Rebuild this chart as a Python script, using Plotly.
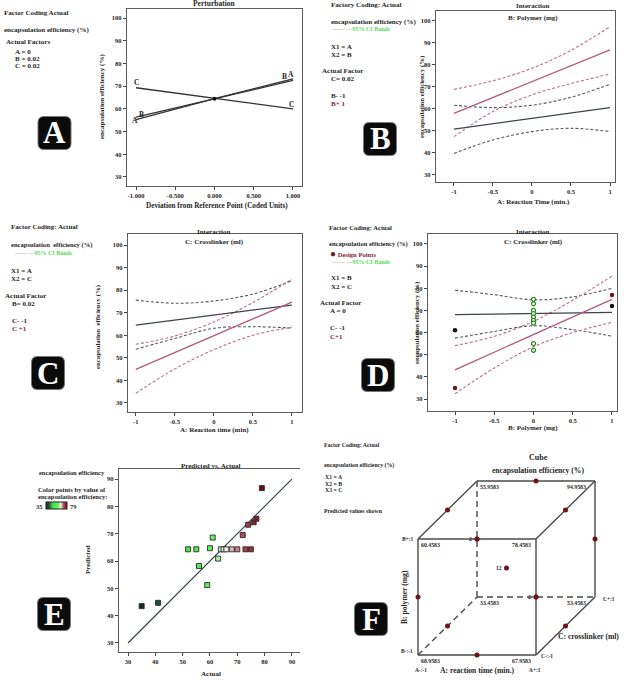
import plotly.graph_objects as go

# ---------------- data ----------------
# Panel A: perturbation
pert_x = [-1.0, 0.0, 1.0]
pert_A = [55.2, 64.5, 73.2]
pert_B = [56.3, 64.5, 72.5]
pert_C = [69.3, 64.5, 60.0]
pert_ticks = [-1.0, -0.5, 0.0, 0.5, 1.0]
pert_ticktext = ["-1.000", "-0.500", "0.000", "0.500", "1.000"]

# Interaction panels share coded x positions
int_x = [-1.0, -0.5, 0.0, 0.5, 1.0]
int_ticktext = ["-1", "-0.5", "0", "0.5", "1"]
eff_ticks = [30, 40, 50, 60, 70, 80, 90, 100]

# Panel B: A x B  (B- black, B+ pink)
b_low_fit = [50.8, 53.2, 55.7, 58.1, 60.6]
b_low_up = [61.7, 60.6, 61.7, 65.3, 71.2]
b_low_dn = [39.8, 45.9, 49.7, 51.2, 49.7]
b_high_fit = [58.0, 65.2, 72.4, 79.6, 86.8]
b_high_up = [68.9, 72.8, 78.5, 86.6, 97.4]
b_high_dn = [47.4, 58.8, 66.4, 71.5, 75.9]

# Panel C: A x C
c_low_fit = [64.5, 66.7, 69.0, 71.2, 73.4]
c_low_up = [75.6, 74.2, 75.2, 78.3, 84.2]
c_low_dn = [53.8, 58.6, 63.1, 63.8, 63.2]
c_high_fit = [44.9, 52.4, 59.8, 67.3, 74.7]
c_high_up = [56.0, 59.7, 65.9, 74.5, 84.9]
c_high_dn = [34.3, 45.1, 53.6, 60.0, 63.6]

# Panel D: B x C
d_low_fit = [68.1, 68.4, 68.6, 68.9, 69.1]
d_low_up = [79.1, 77.1, 74.8, 76.1, 80.0]
d_low_dn = [57.5, 60.5, 63.1, 61.3, 58.4]
d_high_fit = [43.2, 51.2, 59.2, 67.1, 75.0]
d_high_up = [54.1, 58.3, 65.1, 74.6, 85.5]
d_high_dn = [32.4, 44.0, 53.6, 60.0, 64.6]
d_pts_low_x = [-1, 1]
d_pts_low_y = [61, 72]
d_pts_high_x = [-1, 1]
d_pts_high_y = [35, 77]
d_center_y = [75, 73, 70, 68.5, 67, 65.5, 64.3, 55, 52]

# Panel E: predicted vs actual
e_actual = [35, 41, 52, 55, 56, 59, 60, 61, 63, 64, 65, 66, 68, 70, 72, 73, 74, 75, 76, 77, 79]
e_pred = [43.5, 44.7, 64.3, 64.3, 58.2, 51.2, 64.7, 68.6, 60.9, 64.3, 64.3, 64.3, 64.3, 64.3,
          69.5, 64.3, 73.3, 64.3, 74.2, 75.5, 86.7]
e_line = [30, 90]
e_ticks = [30, 40, 50, 60, 70, 80, 90]

# Panel F: cube (coded levels)
cube_A = [-1, 1, -1, 1, -1, 1, -1, 1]
cube_B = [-1, -1, 1, 1, -1, -1, 1, 1]
cube_C = [-1, -1, -1, -1, 1, 1, 1, 1]
cube_val = [68.9583, 67.9583, 60.4583, 78.4583, 33.4583, 53.4583, 55.9583, 94.9583]
design_A = [0, 0, -1, 1, 0, 0, -1, 1, -1, 1, -1, 1, 0]
design_B = [-1, 1, 0, 0, -1, 1, 0, 0, -1, -1, 1, 1, 0]
design_C = [-1, -1, -1, -1, 1, 1, 1, 1, 0, 0, 0, 0, 0]
center_runs = 12

# ---------------- helpers ----------------
W, H = 626, 680
FONT = "Liberation Serif"
DARK = "#262626"
BLK = "#3c4549"
BLKD = "#4f5b5f"
PINK = "#b5587d"
PINKD = "#c06c90"
MAROON = "#8a2338"
GREEN_T = "#55dd55"
BOX = "#5c5c5c"


def dom_x(a, b):
    return [a / W, b / W]


def dom_y(top, bottom):
    return [1 - bottom / H, 1 - top / H]


fig = go.Figure()


def line(x, y, ax, color, dash=None, width=1.2, shape="linear"):
    fig.add_trace(go.Scatter(x=x, y=y, mode="lines", xaxis="x" + ax, yaxis="y" + ax,
                             line=dict(color=color, width=width, dash=dash, shape=shape),
                             showlegend=False, hoverinfo="skip"))


DASH = "3px,2px"

# Panel A
for ys in (pert_A, pert_B, pert_C):
    line(pert_x, ys, "", "#333333", width=1.3)
fig.add_trace(go.Scatter(x=[pert_x[1]], y=[pert_A[1]], mode="markers", marker=dict(color="#111", size=4),
                         showlegend=False))

# Panels B, C, D
for ax, sets in (("2", (b_low_fit, b_low_up, b_low_dn, b_high_fit, b_high_up, b_high_dn)),
                 ("3", (c_low_fit, c_low_up, c_low_dn, c_high_fit, c_high_up, c_high_dn)),
                 ("4", (d_low_fit, d_low_up, d_low_dn, d_high_fit, d_high_up, d_high_dn))):
    lf, lu, ld, hf, hu, hd = sets
    line(int_x, lu, ax, BLKD, DASH, 1.1, "spline")
    line(int_x, ld, ax, BLKD, DASH, 1.1, "spline")
    line(int_x, hu, ax, PINKD, DASH, 1.1, "spline")
    line(int_x, hd, ax, PINKD, DASH, 1.1, "spline")
    line(int_x, lf, ax, BLK, None, 1.3)
    line(int_x, hf, ax, PINK, None, 1.3)

fig.add_trace(go.Scatter(x=d_pts_low_x, y=d_pts_low_y, mode="markers", xaxis="x4", yaxis="y4",
                         marker=dict(color="#111", size=4.5), showlegend=False))
fig.add_trace(go.Scatter(x=d_pts_high_x, y=d_pts_high_y, mode="markers", xaxis="x4", yaxis="y4",
                         marker=dict(color="#6e1522", size=4.5), showlegend=False))
fig.add_trace(go.Scatter(x=[0] * len(d_center_y), y=d_center_y, mode="markers", xaxis="x4", yaxis="y4",
                         marker=dict(color="white", size=4, line=dict(color="#1f8a1f", width=1.2)),
                         showlegend=False))

# Panel E
line(e_line, e_line, "5", "#2e3a44", None, 1.1)
escale = [[0.0, "#1c2628"], [0.15, "#24503a"], [0.33, "#3ee83e"], [0.58, "#62f062"],
          [0.7, "#f2f2f2"], [0.84, "#b24a5a"], [1.0, "#6a0c12"]]
fig.add_trace(go.Scatter(
    x=e_actual, y=e_pred, mode="markers", xaxis="x5", yaxis="y5", showlegend=False,
    marker=dict(symbol="square", size=5, color=e_actual, colorscale=escale, cmin=35, cmax=79,
                line=dict(color="#2a2a2a", width=0.9), showscale=True,
                colorbar=dict(orientation="h", x=56.5 / W, y=1 - 506 / H, xanchor="center", yanchor="middle",
                              len=21, lenmode="pixels", thickness=7, thicknessmode="pixels",
                              showticklabels=False, ticks="", outlinewidth=1, outlinecolor="#222",
                              xpad=0, ypad=0))))

# Panel F cube (oblique projection)
KX, KY = 0.5, 0.5


def proj(a, b, c):
    return a + KX * c, b + KY * c


hidden = (-1, -1, 1)
for i in range(8):
    for j in range(i + 1, 8):
        pi = (cube_A[i], cube_B[i], cube_C[i])
        pj = (cube_A[j], cube_B[j], cube_C[j])
        if sum(1 for u, v in zip(pi, pj) if u != v) != 1:
            continue
        xi, yi = proj(*pi)
        xj, yj = proj(*pj)
        dash = "6px,4px" if (pi == hidden or pj == hidden) else None
        line([xi, xj], [yi, yj], "6", "#4a4a4a", dash, 1.4)

dx, dy = [], []
for a, b, c in zip(design_A, design_B, design_C):
    x, y = proj(a, b, c)
    dx.append(x)
    dy.append(y)
fig.add_trace(go.Scatter(x=dx, y=dy, mode="markers", xaxis="x6", yaxis="y6",
                         marker=dict(color="#6e1418", size=5), showlegend=False))

# ---------------- axes ----------------
tickfont = dict(family=FONT, size=6.5, color=DARK, weight="bold")


def box_axis(domain, rng, tickvals, anchor, ticktext=None):
    d = dict(domain=domain, range=rng, anchor=anchor, showline=True, mirror=True, linecolor=BOX,
             linewidth=1.3, ticks="outside", ticklen=3, tickwidth=1, tickcolor="#444", showgrid=False,
             zeroline=False, tickvals=tickvals, tickfont=tickfont)
    if ticktext is not None:
        d["ticktext"] = ticktext
    return d


# F ranges from pixel geometry
ux, uy = 59.0, 58.0
f_xr = [(300 - 418) / ux - 1.5, (626 - 418) / ux - 1.5]
f_yr = [(655 - 680) / uy - 1.5, (655 - 440) / uy - 1.5]

fig.update_layout(
    width=W, height=H, margin=dict(l=0, r=0, t=0, b=0),
    paper_bgcolor="white", plot_bgcolor="white", showlegend=False,
    font=dict(family=FONT, color=DARK, size=7, weight="bold"),
    xaxis=box_axis(dom_x(127, 302), [-1.115, 1.115], pert_ticks, "y", pert_ticktext),
    yaxis=box_axis(dom_y(9, 186), [26, 104], eff_ticks, "x"),
    xaxis2=box_axis(dom_x(436, 615), [-1.23, 1.064], int_x, "y2", int_ticktext),
    yaxis2=box_axis(dom_y(11, 182), [26.8, 104.5], eff_ticks, "x2"),
    xaxis3=box_axis(dom_x(128, 302), [-1.10, 1.13], int_x, "y3", int_ticktext),
    yaxis3=box_axis(dom_y(234, 412), [26, 104.9], eff_ticks, "x3"),
    xaxis4=box_axis(dom_x(428, 617), [-1.344, 1.064], int_x, "y4", int_ticktext),
    yaxis4=box_axis(dom_y(234, 411), [24.6, 104.5], eff_ticks, "x4"),
    xaxis5=box_axis(dom_x(119, 302), [26.7, 93.7], e_ticks, "y5"),
    yaxis5=box_axis(dom_y(469, 652), [26.7, 93.7], e_ticks, "x5"),
    xaxis6=dict(domain=dom_x(300, 626), range=f_xr, visible=False, anchor="y6"),
    yaxis6=dict(domain=dom_y(440, 680), range=f_yr, visible=False, anchor="x6"),
)

# ---------------- annotations ----------------
ann = []


def T(xp, yp, s, size=7, color=DARK, xanchor="left", angle=0):
    ann.append(dict(x=xp / W, y=1 - yp / H, xref="paper", yref="paper", text=s, showarrow=False,
                    xanchor=xanchor, yanchor="middle", textangle=angle,
                    font=dict(family=FONT, size=size, color=color, weight="bold")))


def D(x, y, s, ax="", size=7, color=DARK, xanchor="center", xshift=0, yshift=0):
    ann.append(dict(x=x, y=y, xref="x" + ax, yref="y" + ax, text=s, showarrow=False, xanchor=xanchor,
                    yanchor="middle", xshift=xshift, yshift=yshift,
                    font=dict(family=FONT, size=size, color=color, weight="bold")))


CI = "<span style='color:#a9b8a9'>—— —</span>95% CI Bands"

# Panel A
T(2, 13, "Factor Coding Actual")
T(2, 30, "encapsulation efficiency (%)")
T(4, 42, "Actual Factors")
T(13, 52, "A = 0")
T(13, 59, "B = 0.02")
T(13, 66, "C = 0.02")
T(214, 4, "Perturbation", 7.5, xanchor="center")
T(102, 97, "encapsulation efficiency (%)", 7, angle=-90, xanchor="center")
T(217, 206, "Deviation from Reference Point (Coded Units)", 7.2, xanchor="center")
D(-1.0, 71.4, "C", size=7.5)
D(-1.0, 55.0, "A", size=7.5, xshift=-1)
D(-0.93, 57.6, "B", size=7.5)
D(0.89, 74.2, "B", size=7.5)
D(0.98, 75.0, "A", size=7.5)
D(0.98, 62.0, "C", size=7.5)

# Panel B
T(329, 5, "Factory Coding: Actual")
T(329, 22, "encapsulation efficiency (%)")
T(330, 29, CI, 6, GREEN_T)
T(329, 47, "X1 = A")
T(329, 55, "X2 = B")
T(320, 71, "Actual Factor")
T(329, 79, "C= 0.02")
T(329, 96, "B- -1")
T(329, 104, "B+ 1", color=MAROON)
T(533, 6, "Interaction", 7, xanchor="center")
T(533, 18, "B: Polymer (mg)", 7, xanchor="center")
T(422, 97, "encapsulation efficiency (%)", 6.8, angle=-90, xanchor="center")
T(533, 202, "A: Reaction Time (min.)", 7, xanchor="center")

# Panel C
T(9, 227, "Factor Coding: Actual")
T(9, 245, "encapsulation  efficiency (%)", 6.6)
T(12, 253, CI, 6, GREEN_T)
T(9, 271, "X1 = A")
T(9, 279, "X2 = C")
T(3, 296, "Actual Factor")
T(10, 304, "B= 0.02")
T(10, 321, "C- -1")
T(10, 329, "C +1", color=MAROON)
T(214, 232, "Interaction", 7, xanchor="center")
T(214, 242, "C: Crosslinker (ml)", 7, xanchor="center")
T(98, 327, "encapsulation  efficiency (%)", 6.8, angle=-90, xanchor="center")
T(214, 430, "A: Reaction time (min)", 7, xanchor="center")

# Panel D
T(327, 228, "Factor Coding: Actual", 6.6)
T(327, 244, "encapsulation efficiency (%)", 6.5)
T(328, 253, "<span style='color:#6e1522;font-size:10px'>●</span> Design Points", 6.6, MAROON)
T(330, 262, CI, 6, GREEN_T)
T(329, 278, "X1 = B")
T(329, 287, "X2 = C")
T(318, 303, "Actual Factor")
T(328, 311, "A = 0")
T(328, 328, "C- -1")
T(328, 337, "C+1", color=MAROON)
T(533, 232, "Interaction", 7, xanchor="center")
T(533, 242, "C: Crosslinker (ml)", 7, xanchor="center")
T(417, 323, "encapsulation efficiency (%)", 6.8, angle=-90, xanchor="center")
T(533, 428, "B: Polymer (mg)", 7, xanchor="center")

# Panel E
T(37, 472, "encapsulation efficiency", 6.4)
T(36, 489, "Color points by value of", 6.6)
T(36, 497, "encapsulation efficiency:", 6.6)
T(44, 506, "35", 6.3, xanchor="right")
T(68, 506, "79", 6.3)
T(211, 466, "Predicted vs. Actual", 7, xanchor="center")
T(88, 560, "Predicted", 7, angle=-90, xanchor="center")
T(211, 674, "Actual", 7, xanchor="center")

# Panel F left text
T(322, 445, "Factor Coding: Actual", 5.8)
T(322, 465, "encapsulation efficiency (%)", 5.8)
T(323, 477, "X1 = A", 5.8)
T(323, 483.5, "X2 = B", 5.8)
T(323, 490, "X3 = C", 5.8)
T(322, 511, "Predicted values shown", 5.8)
T(538, 457, "Cube", 8, xanchor="center")
T(538, 470, "encapsulation efficiency (%)", 7.6, xanchor="center")
T(477, 670, "A: reaction time (min.)", 7.6, xanchor="center")
T(404, 597, "B: polymer (mg)", 7.6, angle=-90, xanchor="center")
T(588, 636, "C: crosslinker (ml)", 7.6, xanchor="center")

# cube corner values
for a, b, c, v in zip(cube_A, cube_B, cube_C, cube_val):
    x, y = proj(a, b, c)
    if a < 0:
        D(x, y, f"{v:.4f}", "6", 5.8, xanchor="left", xshift=1, yshift=-6)
    else:
        D(x, y, f"{v:.4f}", "6", 5.8, xanchor="right", xshift=-3 if c < 0 else -7, yshift=-6)

# level labels
x, y = proj(-1, 1, -1)
D(x, y, "B+:1", "6", 5.4, xanchor="right", xshift=-3)
x, y = proj(-1, -1, -1)
D(x, y, "B-:-1", "6", 5.4, xanchor="right", xshift=-3, yshift=4)
D(x, y, "A-:-1", "6", 5.4, xshift=3, yshift=-15)
x, y = proj(1, -1, -1)
D(x, y, "A+:1", "6", 5.4, xshift=-1, yshift=-15)
D(x, y, "C-:-1", "6", 5.4, xanchor="left", xshift=3, yshift=-1)
x, y = proj(1, -1, 1)
D(x, y, "C+:1", "6", 5.4, xanchor="left", xshift=6, yshift=-2)

# replicate counts at projected design points
seen = {}
for x, y in zip(dx, dy):
    seen[(x, y)] = seen.get((x, y), 0) + 1
for (x, y), n in seen.items():
    if x == 0 and y == 0:
        n = center_runs
    if n > 1:
        D(x, y, str(n), "6", 5.6, xanchor="right", xshift=-3)

fig.update_layout(annotations=ann)

# ---------------- panel badges ----------------
shapes = []


def badge(cx, cy, letter, s=33, r=6):
    x0, x1, y0, y1 = cx - s / 2, cx + s / 2, cy - s / 2, cy + s / 2

    def P(x, y):
        return f"{x / W:.5f},{1 - y / H:.5f}"

    path = (f"M {P(x0 + r, y0)} L {P(x1 - r, y0)} Q {P(x1, y0)} {P(x1, y0 + r)} "
            f"L {P(x1, y1 - r)} Q {P(x1, y1)} {P(x1 - r, y1)} L {P(x0 + r, y1)} "
            f"Q {P(x0, y1)} {P(x0, y1 - r)} L {P(x0, y0 + r)} Q {P(x0, y0)} {P(x0 + r, y0)} Z")
    shapes.append(dict(type="path", xref="paper", yref="paper", path=path, fillcolor="#0b0b0b",
                       line=dict(color="#777", width=1)))
    fig.add_annotation(x=cx / W, y=1 - cy / H, xref="paper", yref="paper", text=letter, showarrow=False,
                       xanchor="center", yanchor="middle",
                       font=dict(family=FONT, size=31, color="white", weight="bold"))


badge(54.5, 133, "A")
badge(380, 139, "B")
badge(48, 373, "C")
badge(378, 375, "D")
badge(54, 614, "E")
badge(371, 619, "F")
fig.update_layout(shapes=shapes)

fig.write_html("out.html", config={"displayModeBar": False},
               post_script="document.body.style.margin='0';document.body.style.overflow='hidden';")
